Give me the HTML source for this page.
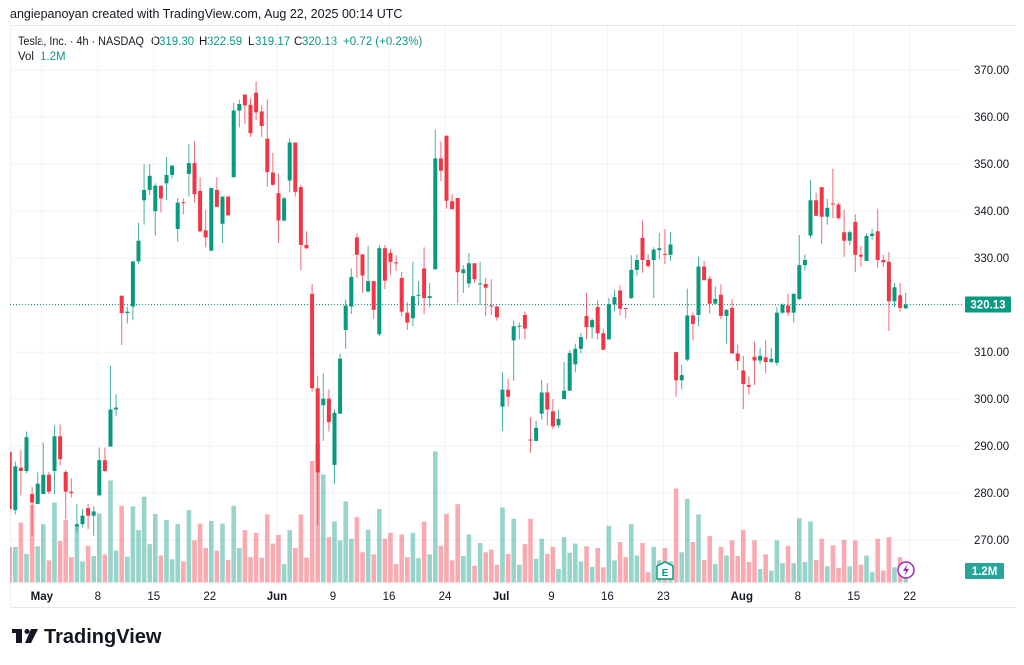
<!DOCTYPE html>
<html><head><meta charset="utf-8"><style>
html,body{margin:0;padding:0;background:#fff;}
svg{display:block;font-family:"Liberation Sans",sans-serif;}
</style></head><body>
<svg id="chart" width="1024" height="665" viewBox="0 0 1024 665" xmlns="http://www.w3.org/2000/svg">
<text x="10" y="18" font-size="12.5" fill="#131722">angiepanoyan created with TradingView.com, Aug 22, 2025 00:14 UTC</text>
<line x1="10" y1="25.5" x2="1016" y2="25.5" stroke="#e6e8ed"/>
<line x1="10.5" y1="25" x2="10.5" y2="608" stroke="#eef0f3"/>
<line x1="10" y1="607.5" x2="1016" y2="607.5" stroke="#e6e8ed"/>
<g font-size="11.5" fill="#131722">
<text x="18" y="45" textLength="126" lengthAdjust="spacingAndGlyphs">Tesla, Inc. · 4h · NASDAQ</text>
<text x="151" y="45">O</text><text x="159" y="45" fill="#089981">319.30</text>
<text x="199" y="45">H</text><text x="207" y="45" fill="#089981">322.59</text>
<text x="248" y="45">L</text><text x="255" y="45" fill="#089981">319.17</text>
<text x="294" y="45">C</text><text x="302" y="45" fill="#089981">320.13</text>
<text x="343" y="45" fill="#089981">+0.72 (+0.23%)</text>
</g>
<g font-size="11.5" fill="#131722">
<text x="18" y="60">Vol</text><text x="40" y="60" fill="#089981">1.2M</text>
</g>
<g id="grid"></g>
<g id="vols"></g>
<g id="candles"></g>
<g id="axis"></g>
<g>
<rect x="12" y="629" width="10" height="4" fill="#131722"/>
<rect x="16" y="629" width="6" height="14" fill="#131722"/>
<circle cx="27" cy="631.5" r="2.5" fill="#131722"/>
<polygon points="31,629 38,629 31,643 25,643" fill="#131722"/>
<text x="44" y="643" font-size="20" font-weight="bold" fill="#131722">TradingView</text>
</g>
</svg>
<script>
const O=[288.8,276.4,285.4,284.7,279.8,277.7,279.8,283.9,284.7,292.1,
284.5,280.3,272.9,273.4,276.8,275.2,279.5,287.0,289.9,297.8,
322.0,318.3,319.7,329.3,342.3,344.5,340.0,345.4,345.9,347.7,
336.2,341.9,347.9,350.2,344.3,335.9,331.6,344.5,337.3,343.1,
347.2,361.4,364.8,362.6,365.2,361.2,355.4,348.2,343.8,338.0,
346.5,354.6,345.1,332.8,322.4,302.3,298.7,300.1,286.0,296.9,
314.7,319.7,334.4,330.8,322.9,325.1,313.8,332.1,331.1,329.1,
325.8,318.4,317.2,322.0,327.8,321.5,327.6,351.2,356.0,342.1,
342.8,326.8,324.6,328.9,324.4,324.5,319.9,319.7,298.4,302.0,
312.5,315.4,317.9,291.4,291.1,296.9,301.4,297.4,294.4,300.0,
301.8,307.4,310.7,317.7,315.3,319.6,314.0,312.7,320.2,323.1,
319.4,321.5,327.5,334.3,329.6,329.6,331.7,330.9,330.7,310.0,
304.0,308.4,317.8,317.9,328.2,325.6,320.3,322.2,317.7,319.4,
309.7,306.1,303.0,309.0,308.2,308.9,307.9,307.7,318.4,319.9,
318.4,321.3,328.5,334.8,342.3,345.1,338.8,341.6,341.4,335.5,
333.7,337.7,330.7,329.4,334.7,335.7,329.6,329.2,320.8,322.1,319.3];
const H=[288.8,286.7,289.2,293.1,281.3,284.4,290.8,284.5,294.4,294.6,
284.9,283.1,277.7,276.6,277.7,277.2,289.7,289.7,307.1,301.0,
322.0,319.7,329.3,337.5,350.0,350.0,345.9,345.4,351.5,349.7,
342.8,342.7,354.3,354.9,347.2,340.2,345.0,347.2,343.1,343.1,
363.0,363.7,364.8,364.0,367.6,362.5,363.8,352.4,348.0,343.1,
355.5,354.6,345.6,335.7,324.5,305.0,305.5,302.0,297.8,309.7,
321.2,327.8,335.3,330.8,332.6,325.1,332.8,332.8,331.9,330.6,
327.1,320.6,329.2,325.1,332.3,324.7,357.4,354.8,356.2,343.6,
342.8,328.5,331.1,328.9,329.2,325.8,325.5,319.9,305.7,304.3,
316.7,316.3,318.6,296.1,295.4,304.1,303.4,300.0,297.7,307.9,
310.4,311.8,314.1,322.6,317.2,321.0,315.0,321.5,323.3,324.2,
319.4,330.6,330.8,338.0,330.8,332.3,335.4,336.2,335.5,310.0,
307.3,323.5,318.4,330.3,329.4,326.2,324.0,324.4,319.1,321.3,
311.6,309.2,304.8,312.2,310.9,312.5,310.9,319.6,320.4,322.4,
322.4,334.9,330.8,346.7,343.9,345.1,342.6,349.0,341.8,340.3,
335.9,339.3,332.6,335.2,336.2,340.5,330.7,331.3,324.7,324.7,322.6];
const L=[276.0,275.5,279.5,284.2,270.9,277.7,279.8,279.8,279.8,285.9,
274.5,279.1,271.6,272.7,272.3,270.9,279.5,284.5,289.9,296.4,
311.5,316.1,316.8,328.7,337.1,343.4,334.8,339.7,342.3,347.0,
333.5,339.3,343.1,341.8,335.5,332.3,331.4,340.9,333.2,339.0,
347.2,357.8,358.5,355.8,359.4,355.8,345.2,345.4,333.2,337.8,
344.0,343.1,327.4,331.9,301.6,273.2,291.1,293.1,282.0,296.9,
310.7,318.1,325.8,322.6,322.7,317.0,313.4,323.4,326.5,327.3,
317.6,314.7,315.5,319.9,318.1,319.5,327.6,346.4,340.5,340.4,
320.4,322.6,323.7,324.7,320.1,317.6,317.9,316.7,293.2,298.4,
303.9,312.7,312.7,288.6,291.1,295.6,294.4,293.6,293.9,300.0,
301.8,305.7,309.7,312.7,312.9,312.7,310.4,312.7,318.6,317.8,
317.2,321.3,326.3,326.9,328.0,321.5,329.8,328.7,329.4,300.5,
302.1,308.0,312.5,315.5,325.3,318.2,320.3,317.0,311.8,309.7,
306.2,297.9,301.0,303.0,307.4,305.5,307.6,307.1,318.1,317.7,
316.3,321.1,327.3,334.2,339.0,333.0,337.1,338.5,338.2,330.3,
332.8,327.1,328.2,329.4,333.9,328.0,328.1,314.5,319.6,318.6,319.2];
const C=[276.6,285.7,284.7,291.9,278.0,282.0,283.9,280.3,292.1,287.2,
280.3,280.0,273.4,275.2,275.2,276.1,287.0,284.7,297.8,298.2,
318.3,318.6,329.3,333.7,344.5,347.5,345.4,342.7,347.7,349.7,
341.8,341.7,350.2,343.6,335.7,334.4,344.9,340.9,343.1,339.1,
361.4,362.8,362.5,356.6,361.0,358.1,348.3,345.6,338.0,342.7,
354.6,344.1,332.8,332.1,302.3,284.4,300.1,295.1,297.1,308.6,
319.9,326.0,330.7,326.3,325.1,319.0,332.1,325.2,329.2,328.9,
318.6,316.3,321.9,322.2,321.5,321.9,351.2,348.6,342.2,340.4,
327.0,327.6,328.9,325.5,324.6,323.7,319.7,317.4,302.0,300.5,
315.5,315.6,315.0,291.2,293.9,301.4,297.8,294.2,295.8,301.8,
309.8,310.7,313.2,315.3,316.8,314.0,310.5,320.2,321.7,319.2,
319.2,327.5,329.6,329.6,328.3,331.8,332.1,330.7,332.9,304.0,
305.1,317.8,316.0,328.2,325.3,320.3,321.3,317.7,319.0,309.7,
308.1,303.2,302.6,308.2,309.2,307.9,308.6,318.4,320.1,318.4,
322.4,328.5,329.6,342.3,339.0,338.8,340.7,341.4,338.5,333.7,
335.5,330.7,330.3,334.7,335.2,329.6,329.1,320.8,323.8,319.4,320.13];
const V=[6.6,6.6,11.1,5.3,14.4,6.7,10.8,4.1,14.8,7.7,
11.6,4.7,10.4,3.9,6.8,4.9,12.8,5.2,18.9,5.9,
14.2,4.8,14.1,9.7,15.9,7.1,12.7,5.0,11.6,4.3,
10.8,3.9,13.4,7.8,10.9,6.4,11.4,5.9,10.9,4.2,
14.2,6.4,9.7,4.7,9.2,4.6,12.6,7.2,8.8,3.4,
9.7,6.4,12.6,4.6,22.5,25.6,20.0,8.4,11.3,7.8,
15.0,8.1,12.1,5.6,9.8,5.2,13.6,8.1,9.2,3.4,
8.9,4.7,9.2,4.5,11.3,5.2,24.3,6.8,12.7,4.1,
14.5,4.9,8.9,3.1,7.3,5.6,6.1,3.3,13.9,5.3,
11.8,3.3,7.1,11.8,4.4,8.1,5.3,6.6,2.5,8.4,
5.5,7.2,3.9,6.7,2.9,6.4,2.8,10.5,4.1,7.5,
4.7,10.8,5.0,7.3,1.9,6.6,4.1,6.4,3.9,17.4,
5.6,15.5,7.5,12.6,4.2,8.6,3.4,6.6,5.0,7.8,
4.9,9.7,3.8,7.8,2.5,5.2,2.2,7.8,3.6,6.8,
3.6,11.9,3.8,11.3,4.2,8.1,3.0,6.9,2.7,7.9,
3.0,7.8,3.3,5.0,1.9,8.1,2.2,8.4,2.8,4.7,1.2];
const priceTicks=[370,360,350,340,330,320,310,300,290,280,270];
const timeLabels=["May","8","15","22","Jun","9","16","24","Jul","9","16","23","Aug","8","15","22"];
const timeLabelBar=[6,16,26,36,48,58,68,78,88,97,107,117,131,141,151,161];
const boldLabels=["May","Jun","Jul","Aug"];
const lastPrice=320.13, lastVolLabel="1.2M";

const NS="http://www.w3.org/2000/svg";
const X0=9.7, STEP=5.6, PLOT_L=10, PLOT_R=963;
const xScale=i=>X0+i*STEP;
const yScale=p=>70.1+(370-p)*4.70;
const volBase=582.5, volScale=v=>v*5.4;
const GREEN="#089981", RED="#f23645";
function mk(tag,attrs,parent){const e=document.createElementNS(NS,tag);for(const k in attrs)e.setAttribute(k,attrs[k]);parent.appendChild(e);return e;}

const svg=document.getElementById('chart');
const defs=mk('defs',{},svg);
const cp=mk('clipPath',{id:'plotclip'},defs);
mk('rect',{x:PLOT_L,y:26,width:PLOT_R-PLOT_L,height:560},cp);

const grid=document.getElementById('grid');
priceTicks.forEach(p=>{
  const l=mk('line',{x1:PLOT_L,x2:PLOT_R,y1:yScale(p),y2:yScale(p),stroke:'#f0f3fa','stroke-width':1},grid);
  
  
});
timeLabelBar.forEach(b=>{
  const x=xScale(b)-1.5;
  if(x>PLOT_R) return;
  const l=mk('line',{x1:x,x2:x,y1:26,y2:586,stroke:'#f0f3fa','stroke-width':1},grid);
  
  
});

const vols=document.getElementById('vols');
vols.setAttribute('clip-path','url(#plotclip)');
V.forEach((v,i)=>{
  const up=C[i]>=O[i];
  const h=volScale(v);
  const r=mk('rect',{x:xScale(i)-2.3,y:volBase-h,width:4.6,height:h,fill:up?'rgba(8,153,129,0.42)':'rgba(242,54,69,0.42)'},vols);
  
  
});

const cg=document.getElementById('candles');
cg.setAttribute('clip-path','url(#plotclip)');
const pl=mk('line',{x1:PLOT_L,x2:PLOT_R,y1:yScale(lastPrice),y2:yScale(lastPrice),stroke:'#089981','stroke-width':1,'stroke-dasharray':'1 2'},cg);


O.forEach((o,i)=>{
  const c=C[i], up=c>=o, col=up?GREEN:RED, x=xScale(i);
  const g=mk('g',{},cg);
  
  
  mk('line',{x1:x,x2:x,y1:yScale(H[i]),y2:yScale(L[i]),stroke:col,'stroke-width':1,'stroke-opacity':0.75},g);
  const top=yScale(Math.max(o,c)), bot=yScale(Math.min(o,c));
  mk('rect',{x:x-2,y:top,width:4,height:Math.max(1,bot-top),fill:col},g);
});

const ax=document.getElementById('axis');
priceTicks.forEach(p=>{
  const t=mk('text',{x:974,y:yScale(p)+4,'font-size':11.5,fill:'#131722'},ax);
  t.textContent=p.toFixed(2);
  
  
});
const tag=mk('rect',{x:965,y:yScale(lastPrice)-8,width:46,height:16,rx:1,fill:GREEN},ax);


const tt=mk('text',{x:988,y:yScale(lastPrice)+4,'font-size':11.5,'font-weight':'bold',fill:'#fff','text-anchor':'middle'},ax);
tt.textContent=lastPrice.toFixed(2);


const vtag=mk('rect',{x:965,y:563,width:39,height:16,rx:1,fill:'#26a69a'},ax);


const vt=mk('text',{x:984.5,y:575,'font-size':11.5,'font-weight':'bold',fill:'#fff','text-anchor':'middle'},ax);
vt.textContent=lastVolLabel;


timeLabels.forEach((s,k)=>{
  const t=mk('text',{x:xScale(timeLabelBar[k])-1.5,y:600,'font-size':11.5,fill:'#131722','text-anchor':'middle','font-weight':boldLabels.includes(s)?'bold':'normal'},ax);
  t.textContent=s;
  
  
});
const eg=mk('g',{},ax);


mk('path',{d:'M657,566 L665,562 L673,566 L673,579 L657,579 Z',fill:'#fff',stroke:'#089981','stroke-width':1.5},eg);
const et=mk('text',{x:665,y:576,'font-size':10,'font-weight':'bold',fill:'#089981','text-anchor':'middle'},eg);
et.textContent='E';
const lg=mk('g',{},ax);


mk('circle',{cx:906,cy:570,r:8,fill:'#fff',stroke:'#9c27b0','stroke-width':1.5},lg);
mk('path',{d:'M907.5,564 L903,571 L906,571 L904.5,576 L909,569 L906,569 Z',fill:'#9c27b0'},lg);
</script>
</body></html>
